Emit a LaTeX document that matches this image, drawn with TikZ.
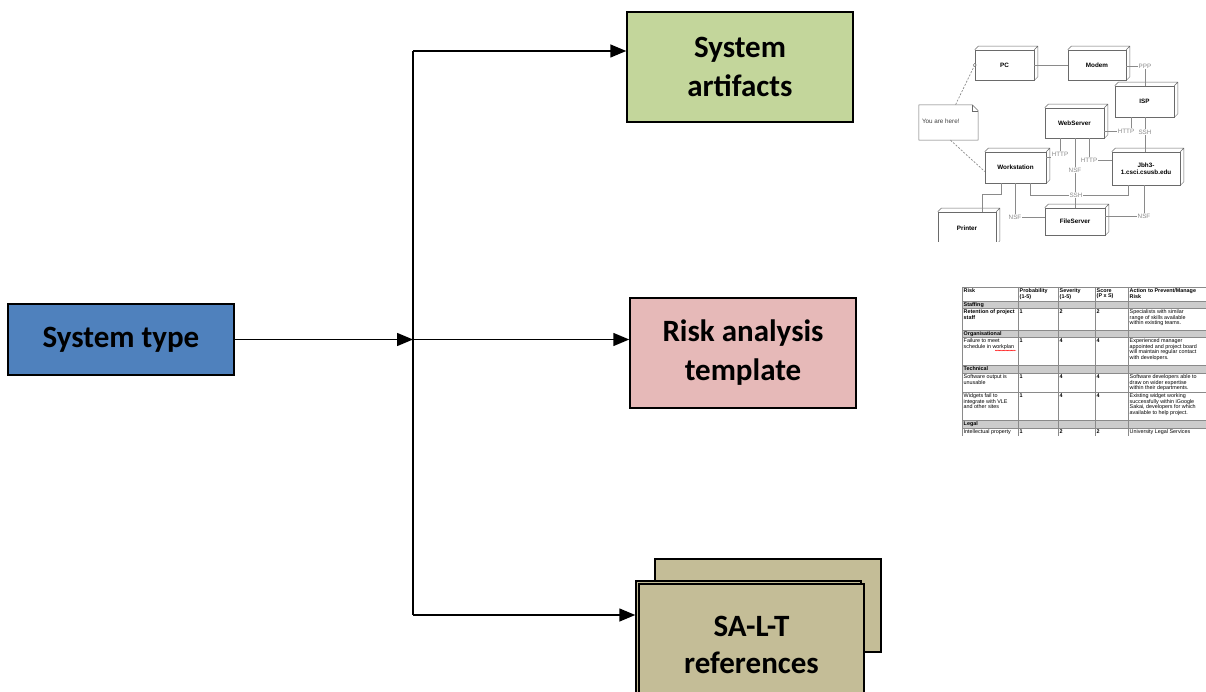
\documentclass[tikz,border=0pt]{standalone}
\usepackage{fontspec}
\newfontfamily\carlito{Carlito}
\newfontfamily\arialf{Liberation Sans}
\usetikzlibrary{arrows.meta,decorations.pathmorphing}
\definecolor{cblue}{HTML}{4F81BD}
\definecolor{cgreen}{HTML}{C3D69B}
\definecolor{cpink}{HTML}{E6B9B8}
\definecolor{ctan}{HTML}{C4BD97}
\definecolor{netgray}{HTML}{8A8A8A}
\definecolor{netdark}{HTML}{6A6A6A}
\definecolor{rowgray}{HTML}{CCCCCC}
\newcommand\netdepth[1]{\draw[netedge] (#1.north west) -- ++(3.5pt,3.5pt) -- ([shift={(3.5pt,3.5pt)}]#1.north east) -- ([shift={(3.5pt,3.5pt)}]#1.south east) -- (#1.south east) (#1.north east) -- ++(3.5pt,3.5pt);}
\begin{document}
\begin{tikzpicture}[x=1pt,y=-1pt,
  mainbox/.style={draw=black, line width=1.5pt, align=center, inner sep=0pt,
    font=\carlito\bfseries\fontsize{31}{39}\selectfont},
  conn/.style={line width=1.5pt, -{Triangle[length=16pt,width=13pt]}},
  netbox/.style={draw=netdark, line width=0.6pt, fill=white, inner sep=0pt, align=center,
    font=\arialf\bfseries\fontsize{6.3}{7.2}\selectfont},
  netedge/.style={draw=netdark, line width=0.5pt},
  netline/.style={draw=netgray, line width=0.7pt},
  netlabel/.style={fill=white, inner sep=0.6pt, text=netgray, font=\arialf\fontsize{6.3}{7}\selectfont},
  tabline/.style={draw=netgray, line width=0.6pt},
  tabtxt/.style={anchor=north west, inner sep=0pt, align=left, font=\arialf\fontsize{5.4}{5.5}\selectfont},
  tabhead/.style={tabtxt, font=\arialf\bfseries\fontsize{5.4}{5.5}\selectfont}
]
\useasboundingbox (0,0) rectangle (1206,692);

% ---------- main boxes ----------
\node[mainbox, fill=cblue, minimum width=226pt, minimum height=71pt] (systype) at (121,339.5) {System type};
\node[mainbox, fill=cgreen, minimum width=226pt, minimum height=110pt] (sysart) at (740,67) {System\\artifacts};
\node[mainbox, fill=cpink, minimum width=226pt, minimum height=110pt] (risk) at (743,353) {Risk analysis\\template};
\node[mainbox, fill=ctan, minimum width=226pt, minimum height=93pt] (saltback) at (768,605.5) {};
\node[mainbox, fill=ctan, minimum width=225pt, minimum height=124pt] (saltmid) at (748.5,643) {};
\node[mainbox, fill=ctan, minimum width=225pt, minimum height=121pt, font=\carlito\bfseries\fontsize{31}{37}\selectfont] (salt) at (751.5,644.5) {SA-L-T\\references};

% ---------- connectors ----------
\coordinate (jtop) at (413,51);
\coordinate (jmid) at (413,339.5);
\coordinate (jbot) at (413,615);
\draw[line width=1.5pt] (jtop) -- (jbot);
\draw[conn] (systype.east) -- (jmid);
\draw[conn] (jtop) -- (jtop -| sysart.west);
\draw[conn] (jmid) -- (jmid -| risk.west);
\draw[conn] (jbot) -- (jbot -| saltmid.west);

% ---------- network deployment picture ----------
\begin{scope}
\clip (918,40) rectangle (1206,242);
\node[netbox, minimum width=59pt, minimum height=30pt] (pc) at (1004.5,65) {PC};
\node[netbox, minimum width=58pt, minimum height=30pt] (modem) at (1097,65) {Modem};
\node[netbox, minimum width=59pt, minimum height=31pt] (isp) at (1144.5,101.5) {ISP};
\node[netbox, minimum width=59pt, minimum height=30pt] (web) at (1074.5,123) {WebServer};
\node[netbox, minimum width=61pt, minimum height=31pt] (ws) at (1015.5,167.5) {Workstation};
\node[netbox, minimum width=68pt, minimum height=33pt] (jbh) at (1146,168.5) {Jbh3-\\1.csci.csusb.edu};
\node[netbox, minimum width=58pt, minimum height=32pt] (printer) at (967,228) {Printer};
\node[netbox, minimum width=60pt, minimum height=27pt] (fs) at (1075,221.5) {FileServer};
\foreach \n in {pc,modem,isp,web,ws,jbh,printer,fs} {\netdepth{\n}}

% note
\node[minimum width=59pt, minimum height=35pt, inner sep=0pt] (note) at (948.5,122.5) {};
\draw[netedge, fill=white] (note.north west) -- ([xshift=-6pt]note.north east) -- ([yshift=-6pt]note.north east) -- (note.south east) -- (note.south west) -- cycle;
\draw[netedge] ([xshift=-6pt]note.north east) -- ([xshift=-6pt,yshift=-6pt]note.north east) -- ([yshift=-6pt]note.north east);
\node[anchor=west, inner sep=0pt, text=black!75, font=\arialf\fontsize{6.3}{7}\selectfont] (notetxt) at ([xshift=3pt,yshift=1pt]note.west) {You are here!};

% labels
\node[netlabel] (ppp) at (1145,66) {PPP};
\node[netlabel] (http1) at (1126,131) {HTTP};
\node[netlabel] (ssh1) at (1145,132) {SSH};
\node[netlabel] (http2) at (1060,154) {HTTP};
\node[netlabel] (nsf1) at (1075,170) {NSF};
\node[netlabel] (http3) at (1089,160) {HTTP};
\node[netlabel] (ssh2) at (1076,195) {SSH};
\node[netlabel] (nsf2) at (1015,217) {NSF};
\node[netlabel] (nsf3) at (1144,216) {NSF};

% lines
\draw[netline] (pc.east) -- (modem.west);
\draw[netline] (modem.east |- ppp) -- (ppp.west);
\draw[netline] (ppp.south) -- (ppp.south |- isp.north);
\draw[netline] (web.east |- http1) -- (http1.west);
\draw[netline] (isp.south -| 1131,0) -- (1131,0 |- http1.north);
\draw[netline] (isp.south -| ssh1) -- (ssh1.north);
\draw[netline] (ssh1.south) -- (ssh1.south |- jbh.north);
\draw[netline] (web.south -| http2) -- (http2.north);
\draw[netline] (ws.east |- http2.south) -- (http2.south west);
\draw[netline] (web.south -| nsf1) -- (nsf1.north);
\draw[netline] (nsf1.south) -- (nsf1.south |- ssh2.north);
\draw[netline] (ssh2.south -| nsf1) -- (fs.north -| nsf1);
\draw[netline] (web.south -| http3) -- (http3.north);
\draw[netline] (http3.east) -- (http3.east -| jbh.west);
\draw[netline] (ws.south -| 1030,0) |- (ssh2.west);
\draw[netline] (ssh2.east) -| (jbh.south -| 1128,0);
\draw[netline] (ws.south -| 1001,0) -- (1001,194) -| (printer.north -| 982,0);
\draw[netline] (ws.south -| nsf2) -- (nsf2.north);
\draw[netline] (nsf2.east) -- (nsf2.east -| fs.west);
\draw[netline] (fs.east |- nsf3) -- (nsf3.west);
\draw[netline] (nsf3.north) -- (nsf3.north |- jbh.south);

% dashed note links
\draw[netline, dash pattern=on 2pt off 1.5pt] (pc.west) -- ([xshift=7pt]note.north);
\draw[netline, dash pattern=on 2pt off 1.5pt] ([xshift=2pt]note.south) -- ([yshift=-4pt]ws.west);
\draw[netedge, fill=white] (pc.west) circle (1.6pt);
\end{scope}

% ---------- risk table picture ----------
\begin{scope}
\clip (958,283) rectangle (1206,435);
\foreach \a/\b in {301/308,330/337,365/373,420/428} {\fill[rowgray] (962,\a) rectangle (1240,\b);}
\foreach \yy in {287,301,308,330,337,365,373,392,420,428} {\draw[tabline] (962,\yy) -- (1240,\yy);}
\foreach \xx in {962,1018,1058,1095,1128} {\draw[tabline] (\xx,287) -- (\xx,448);}
% header
\node[tabhead] (h1) at (963.5,288.5) {Risk};
\node[tabhead] (h2) at (1019.5,288.5) {Probability\\(1-5)};
\node[tabhead] (h3) at (1059.5,288.5) {Severity\\(1-5)};
\node[tabhead] (h4) at (1096.5,288.5) {Score\\(P x S)};
\node[tabhead] (h5) at (1129.5,288.5) {Action to Prevent/Manage\\Risk};
% staffing
\node[tabhead] (s1) at (963.5,302) {Staffing};
\node[tabhead] (r1a) at (963.5,309.5) {Retention of project\\staff};
\node[tabhead] (r1b) at (1019.5,309.5) {1};
\node[tabhead] (r1c) at (1059.5,309.5) {2};
\node[tabhead] (r1d) at (1096.5,309.5) {2};
\node[tabtxt] (r1e) at (1129.5,309.5) {Specialists with similar\\range of skills available\\within existing teams.};
% organisational
\node[tabhead] (s2) at (963.5,331) {Organisational};
\node[tabtxt] (r2a) at (963.5,338.5) {Failure to meet\\schedule in workplan};
\node[tabhead] (r2b) at (1019.5,338.5) {1};
\node[tabhead] (r2c) at (1059.5,338.5) {4};
\node[tabhead] (r2d) at (1096.5,338.5) {4};
\node[tabtxt] (r2e) at (1129.5,338.5) {Experienced manager\\appointed and project board\\will maintain regular contact\\with developers.};
\draw[red, line width=0.35pt, decorate, decoration={snake, amplitude=0.4pt, segment length=1.6pt}] (995,350.5) -- (1016,350.5);
% technical
\node[tabhead] (s3) at (963.5,366) {Technical};
\node[tabtxt] (r3a) at (963.5,374.5) {Software output is\\unusable};
\node[tabhead] (r3b) at (1019.5,374.5) {1};
\node[tabhead] (r3c) at (1059.5,374.5) {4};
\node[tabhead] (r3d) at (1096.5,374.5) {4};
\node[tabtxt] (r3e) at (1129.5,374.5) {Software developers able to\\draw on wider expertise\\within their departments.};
\node[tabtxt] (r4a) at (963.5,393.5) {Widgets fail to\\integrate with VLE\\and other sites};
\node[tabhead] (r4b) at (1019.5,393.5) {1};
\node[tabhead] (r4c) at (1059.5,393.5) {4};
\node[tabhead] (r4d) at (1096.5,393.5) {4};
\node[tabtxt] (r4e) at (1129.5,393.5) {Existing widget working\\successfully within iGoogle\\Sakai, developers for which\\available to help project.};
% legal
\node[tabhead] (s4) at (963.5,421) {Legal};
\node[tabtxt] (r5a) at (963.5,429.5) {Intellectual property};
\node[tabhead] (r5b) at (1019.5,429.5) {1};
\node[tabhead] (r5c) at (1059.5,429.5) {2};
\node[tabhead] (r5d) at (1096.5,429.5) {2};
\node[tabtxt] (r5e) at (1129.5,429.5) {University Legal Services};
\end{scope}
\end{tikzpicture}
\end{document}
